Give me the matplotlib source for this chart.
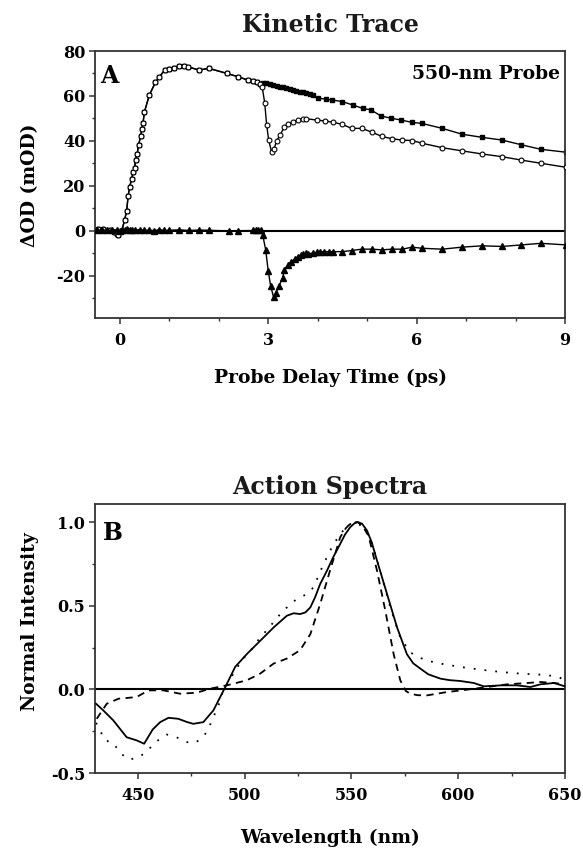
import matplotlib
matplotlib.use("Agg")
import matplotlib.pyplot as plt
from matplotlib.ticker import MultipleLocator

plt.rcParams['font.family'] = ['DejaVu Serif']
plt.rcParams['font.weight'] = 'bold'
plt.rcParams['axes.unicode_minus'] = False

# ---------------- Panel A data ----------------
t_pre = [-0.44, -0.33, -0.2, -0.12, -0.06, -0.03, 0.04, 0.1, 0.14, 0.17, 0.2, 0.24, 0.27, 0.3,
         0.32, 0.35, 0.38, 0.42, 0.45, 0.47, 0.5, 0.6, 0.72, 0.8, 0.91, 1.0, 1.1, 1.2, 1.3,
         1.38, 1.6, 1.8, 2.17, 2.4, 2.6, 2.7, 2.77, 2.84]
od_pre = [0.9, 0.7, 0.3, -0.5, -1.5, -2.0, 0.0, 5.0, 9.0, 15.6, 19.6, 23.0, 26.0, 28.0,
          31.5, 34.0, 38.0, 42.0, 45.5, 48.0, 53.0, 60.5, 66.0, 68.5, 71.5, 72.0, 72.5, 73.5, 73.5,
          73.0, 71.5, 72.3, 70.0, 68.5, 67.0, 66.5, 66.0, 65.5]

# pump-dump-probe (open circles), after 2.84 ps
t_dump = [2.88, 2.93, 2.97, 3.01, 3.07, 3.12, 3.17, 3.24, 3.32, 3.4, 3.5, 3.6, 3.7, 3.77,
          3.98, 4.15, 4.32, 4.49, 4.69, 4.89, 5.1, 5.3, 5.5, 5.71, 5.91, 6.11, 6.52, 6.92,
          7.33, 7.73, 8.12, 8.51, 9.02]
od_dump = [63.9, 57.0, 47.0, 40.5, 35.0, 36.5, 40.0, 42.5, 46.0, 47.5, 48.6, 49.3, 49.8, 49.9,
           49.3, 48.9, 48.3, 47.4, 45.6, 45.6, 43.9, 42.0, 41.0, 40.4, 40.2, 39.0, 37.0, 35.6,
           34.2, 33.0, 31.5, 30.1, 28.3]

# pump-probe (filled squares), after 2.84 ps
t_pp = [2.9, 2.96, 3.03, 3.1, 3.17, 3.23, 3.3, 3.37, 3.44, 3.5, 3.57, 3.64, 3.7, 3.77, 3.84,
        3.91, 4.0, 4.17, 4.3, 4.5, 4.71, 4.91, 5.08, 5.28, 5.49, 5.69, 5.9, 6.11, 6.52, 6.92,
        7.33, 7.73, 8.12, 8.51, 9.02]
od_pp = [65.9, 65.6, 65.2, 64.9, 64.5, 64.1, 63.8, 63.4, 63.0, 62.7, 62.3, 61.9, 61.6, 61.2, 60.8,
         60.4, 59.2, 58.5, 58.2, 57.5, 56.0, 54.5, 53.8, 51.1, 50.1, 49.3, 48.3, 47.8, 45.6, 43.0,
         41.6, 40.4, 38.3, 36.3, 35.0]

# difference (filled triangles)
t_diff = [-0.45, -0.35, -0.25, -0.15, -0.05, 0.0, 0.05, 0.1, 0.15, 0.2, 0.25, 0.3, 0.4, 0.5,
          0.6, 0.7, 0.8, 0.9, 1.0, 1.2, 1.4, 1.6, 1.8, 2.2, 2.4, 2.7, 2.75, 2.8, 2.85,
          2.89, 2.95, 3.0, 3.05, 3.11, 3.16, 3.22, 3.29, 3.33, 3.4, 3.47, 3.54, 3.6, 3.66, 3.71,
          3.76, 3.81, 3.9, 3.98, 4.05, 4.12, 4.22, 4.32, 4.5, 4.69, 4.89, 5.1, 5.3, 5.5, 5.71,
          5.91, 6.11, 6.52, 6.92, 7.33, 7.73, 8.12, 8.51, 9.02]
od_diff = [0.3, 0.5, 0.2, 0.6, 0.3, 0.1, 0.5, 0.4, 0.7, 0.2, 0.5, 0.3, 0.6, 0.2, 0.4, 0.1, 0.6,
           0.2, 0.3, 0.5, 0.2, 0.4, 0.3, 0.0, 0.1, 0.2, 0.5, 0.3, 0.4,
           -1.8, -8.4, -17.6, -24.4, -29.5, -27.4, -24.4, -21.0, -17.3, -15.1, -13.6, -12.4, -11.4,
           -10.8, -10.2, -10.0, -10.2, -9.8, -9.5, -9.3, -9.2, -9.2, -9.2, -9.2, -8.7, -8.1, -8.1,
           -8.4, -8.1, -8.1, -7.2, -7.7, -8.1, -7.2, -6.6, -6.9, -6.2, -5.5, -6.2]

# ---------------- Panel B data ----------------
wl_solid = [430.5, 433.9, 438.6, 444.8, 449.5, 453.0, 457.0, 460.5, 464.4, 469.0, 473.0, 476.0,
            480.7, 485.4, 489.4, 491.0, 495.6, 501.0, 507.3, 513.6, 519.8, 523.0, 526.0, 528.5,
            530.8, 533.0, 535.4, 538.6, 541.5, 544.8, 547.0, 549.5, 551.5, 553.0, 555.0, 557.3,
            559.5, 562.0, 566.7, 571.4, 576.0, 579.0, 582.3, 586.0, 591.7, 596.0, 601.0, 607.3,
            612.0, 620.0, 627.6, 633.8, 638.5, 644.8, 650.0]
int_solid = [-0.086, -0.126, -0.186, -0.286, -0.305, -0.325, -0.24, -0.196, -0.17, -0.176, -0.195,
             -0.206, -0.196, -0.126, -0.026, 0.014, 0.134, 0.21, 0.29, 0.37, 0.44, 0.455, 0.45,
             0.46, 0.49, 0.55, 0.63, 0.71, 0.79, 0.87, 0.925, 0.97, 0.993, 1.0, 0.99, 0.95,
             0.88, 0.77, 0.57, 0.37, 0.21, 0.155, 0.124, 0.09, 0.064, 0.055, 0.05, 0.038,
             0.018, 0.024, 0.024, 0.014, 0.03, 0.038, 0.018]

wl_dash = [430.8, 435.5, 441.0, 449.5, 455.0, 462.0, 469.8, 477.6, 483.9, 491.7, 501.0, 507.3,
           513.6, 519.8, 526.0, 530.8, 535.4, 540.0, 544.8, 547.5, 549.5, 551.5, 553.0, 555.5,
           558.0, 562.0, 565.9, 569.8, 572.9, 575.5, 577.6, 581.0, 585.4, 594.8, 604.0, 613.5,
           622.9, 632.3, 638.5, 644.8, 650.0]
int_dash = [-0.176, -0.086, -0.056, -0.046, -0.006, -0.006, -0.026, -0.02, 0.004, 0.024, 0.054,
            0.094, 0.154, 0.184, 0.234, 0.33, 0.51, 0.71, 0.91, 0.965, 0.99, 0.998, 1.0, 0.97,
            0.92, 0.71, 0.47, 0.21, 0.054, -0.01, -0.026, -0.035, -0.036, -0.016, -0.002, 0.014,
            0.03, 0.038, 0.044, 0.038, 0.03]

wl_dot = [430.5, 434.7, 438.6, 441.7, 446.0, 450.8, 455.0, 458.9, 463.6, 468.0, 472.6, 476.9,
          481.0, 483.4, 485.4, 487.8, 490.0, 494.8, 498.7, 503.4, 507.3, 510.4, 516.7, 521.4,
          524.5, 529.2, 532.3, 537.0, 541.7, 545.6, 548.0, 552.0, 555.5, 558.9, 563.5, 568.2,
          572.9, 577.6, 584.6, 591.7, 601.0, 610.4, 619.8, 629.2, 638.5, 646.3, 650.0]
int_dot = [-0.2, -0.305, -0.32, -0.38, -0.42, -0.405, -0.36, -0.31, -0.27, -0.285, -0.315, -0.32,
           -0.28, -0.226, -0.166, -0.096, -0.006, 0.094, 0.174, 0.24, 0.31, 0.353, 0.45, 0.51,
           0.54, 0.57, 0.61, 0.75, 0.87, 0.94, 0.98, 1.0, 0.97, 0.9, 0.71, 0.49,
           0.31, 0.22, 0.174, 0.154, 0.134, 0.118, 0.104, 0.094, 0.088, 0.078, 0.054]

# ---------------- Figure ----------------
W, H = 583, 851
fig = plt.figure(figsize=(W / 100, H / 100), dpi=100)

def px_axes(l, t, r, b):
    return fig.add_axes([l / W, 1 - b / H, (r - l) / W, (b - t) / H])

axA = px_axes(95, 51, 565, 318)
axB = px_axes(95, 504, 565, 773)

spine_c = '#333333'
for ax in (axA, axB):
    for s in ax.spines.values():
        s.set_color(spine_c)
        s.set_linewidth(1.3)
    ax.tick_params(which='major', direction='out', length=4, width=1.1, color=spine_c,
                   labelsize=11.5, top=False, right=False)
    ax.tick_params(which='minor', direction='out', length=2.5, width=1.0, color=spine_c,
                   top=False, right=False)
    ax.tick_params(axis='x', which='major', pad=6)
    ax.tick_params(axis='y', which='major', pad=3)

# Panel A
t_circ = t_pre + t_dump
od_circ = od_pre + od_dump
t_sq = t_pre + t_pp
od_sq = od_pre + od_pp
axA.axhline(0, color='black', lw=1.5, zorder=1)
axA.plot(t_sq, od_sq, color='black', lw=1.0, marker='s', ms=3.0, mfc='black', mec='black', zorder=2)
axA.plot(t_circ, od_circ, color='black', lw=1.0, marker='o', ms=3.5, mfc='white', mec='black',
         mew=0.8, zorder=3)
axA.plot(t_diff, od_diff, color='black', lw=1.0, marker='^', ms=3.8, mfc='black', mec='black', zorder=4)
axA.set_xlim(-0.5, 9)
axA.set_ylim(-38.7, 80)
axA.xaxis.set_major_locator(MultipleLocator(3))
axA.xaxis.set_minor_locator(MultipleLocator(1))
axA.yaxis.set_major_locator(MultipleLocator(20))
axA.yaxis.set_minor_locator(MultipleLocator(10))
for lab in axA.get_xticklabels() + axA.get_yticklabels():
    lab.set_fontweight('bold')
axA.text(0.011, 0.88, 'A', transform=axA.transAxes, fontsize=17, fontweight='bold', ha='left', va='baseline')
axA.text(0.989, 0.895, '550-nm Probe', transform=axA.transAxes, fontsize=13.5, fontweight='bold',
         ha='right', va='baseline')

# Panel B
axB.axhline(0, color='black', lw=1.5, zorder=1)
axB.plot(wl_solid, int_solid, color='black', lw=1.3, ls='-', zorder=3)
axB.plot(wl_dash, int_dash, color='black', lw=1.3, ls=(0, (4, 3)), zorder=2)
axB.plot(wl_dot, int_dot, color='black', lw=1.3, ls=(0, (1, 5)), zorder=2)
axB.set_xlim(430, 650)
axB.set_ylim(-0.5, 1.108)
axB.xaxis.set_major_locator(MultipleLocator(50))
axB.xaxis.set_minor_locator(MultipleLocator(25))
axB.yaxis.set_major_locator(MultipleLocator(0.5))
axB.yaxis.set_minor_locator(MultipleLocator(0.25))
for lab in axB.get_xticklabels() + axB.get_yticklabels():
    lab.set_fontweight('bold')
axB.text(0.017, 0.866, 'B', transform=axB.transAxes, fontsize=17, fontweight='bold', ha='left', va='baseline')

# Titles and axis labels
fig.text(330 / W, 1 - 25 / H, 'Kinetic Trace', fontsize=17, fontweight='bold', ha='center', va='center', color='#1a1a1a')
fig.text(330 / W, 1 - 487 / H, 'Action Spectra', fontsize=17, fontweight='bold', ha='center', va='center', color='#1a1a1a')
fig.text(330 / W, 1 - 378 / H, 'Probe Delay Time (ps)', fontsize=13.5, fontweight='bold', ha='center', va='center')
fig.text(330 / W, 1 - 838 / H, 'Wavelength (nm)', fontsize=13.5, fontweight='bold', ha='center', va='center')
fig.text(30 / W, 1 - 185 / H, 'ΔOD (mOD)', fontsize=13.5, fontweight='bold', ha='center', va='center', rotation=90)
fig.text(30 / W, 1 - 622 / H, 'Normal Intensity', fontsize=13.5, fontweight='bold', ha='center', va='center', rotation=90)

fig.savefig('out.png', dpi=100)
